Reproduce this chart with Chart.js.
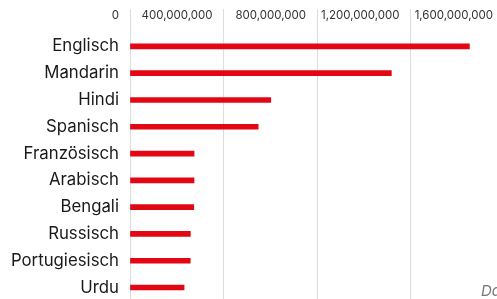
<!DOCTYPE html>
<html>
<head>
<meta charset="utf-8">
<script src="https://cdn.jsdelivr.net/npm/chart.js@4/dist/chart.umd.min.js"></script>
<style>
  html, body { margin: 0; padding: 0; background: #fff; overflow: hidden; }
  #wrap { position: absolute; left: 0; top: 0; width: 520px; height: 322px; }
  #src { position: absolute; left: 481px; top: 281px; font: italic 15px Inter, sans-serif; color: #777; white-space: nowrap; }
</style>
</head>
<body>
<div id="wrap"><canvas id="c"></canvas></div>
<div id="src">Daten: Ethnologue</div>
<script>
const categories = ["Englisch", "Mandarin", "Hindi", "Spanisch", "Französisch", "Arabisch", "Bengali", "Russisch", "Portugiesisch", "Urdu"];
const speakers = [1452000000, 1118000000, 602200000, 548300000, 274100000, 274000000, 272700000, 258200000, 257700000, 231300000];
const tickValues = [0, 400000000, 800000000, 1200000000, 1600000000];

const topLabels = {
  id: 'topLabels',
  afterDraw(chart) {
    const sx = chart.scales.x;
    const ctx = chart.ctx;
    ctx.save();
    ctx.font = '11.5px Inter';
    ctx.fillStyle = '#333333';
    ctx.textAlign = 'right';
    ctx.textBaseline = 'middle';
    tickValues.forEach(v => {
      ctx.fillText(v.toLocaleString('en-US'), sx.getPixelForValue(v) - 11, 16);
    });
    ctx.restore();
  }
};

new Chart(document.getElementById('c'), {
  type: 'bar',
  data: {
    labels: categories,
    datasets: [{
      data: speakers,
      backgroundColor: '#e30613',
      borderWidth: 0,
      barThickness: 5
    }]
  },
  options: {
    indexAxis: 'y',
    responsive: true,
    maintainAspectRatio: false,
    animation: false,
    layout: { padding: { left: 0, right: 16, top: 9, bottom: 11 } },
    plugins: { legend: { display: false }, tooltip: { enabled: false } },
    scales: {
      x: {
        position: 'top',
        min: 0,
        max: 1600000000,
        afterBuildTicks: (axis) => { axis.ticks = tickValues.map(v => ({ value: v })); },
        grid: { color: '#dddddd', lineWidth: 1, tickLength: 24, drawTicks: true },
        border: { display: false },
        ticks: { display: false }
      },
      y: {
        afterFit: (axis) => { axis.width = 130; },
        grid: { display: false, drawTicks: false },
        border: { display: false },
        ticks: {
          padding: 11,
          color: '#1a1a1a',
          font: { family: 'Inter', size: 16.8 }
        }
      }
    }
  },
  plugins: [topLabels]
});
</script>
</body>
</html>
